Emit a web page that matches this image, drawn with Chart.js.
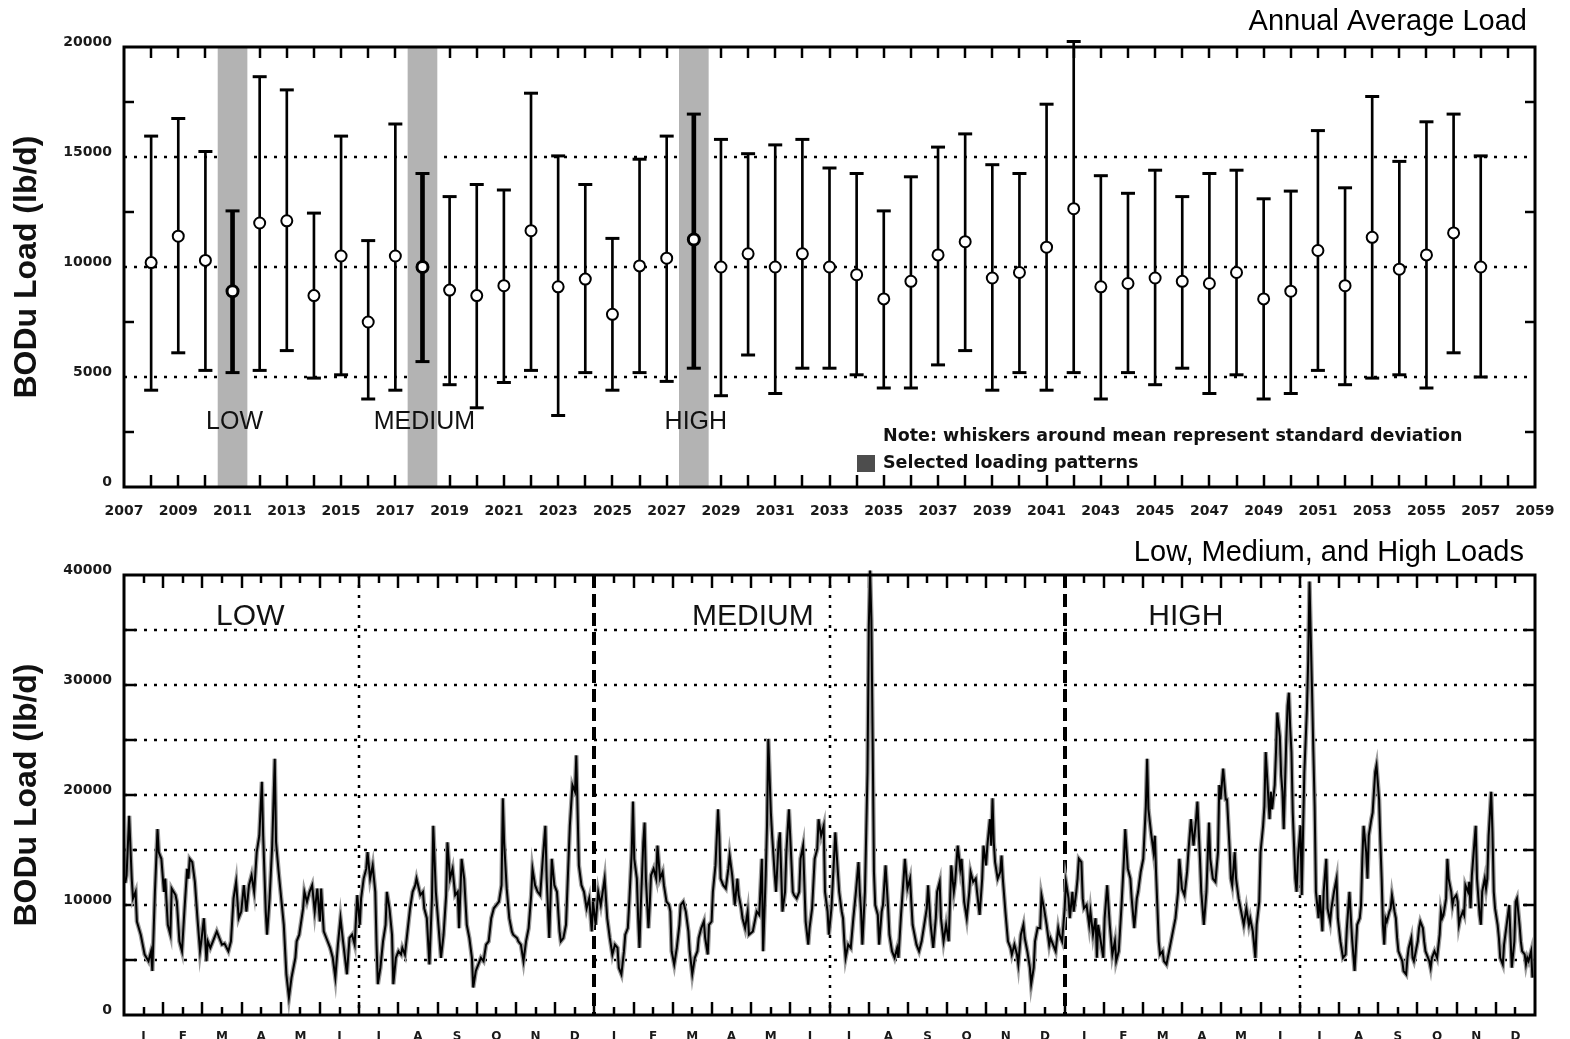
<!DOCTYPE html>
<html lang="en">
<head>
    <meta charset="UTF-8">
    <title>BODu Load</title>
    <script src="https://cdn.jsdelivr.net/npm/chart.js"></script>
    <style>
        body { margin: 0; background: #fff; }
        canvas { position: absolute; left: 0; }
        #annualChart { top: 0; }
        #dailyChart { top: 520px; }
    </style>
</head>
<body>
    <canvas id="annualChart" width="1570" height="520"></canvas>
    <canvas id="dailyChart" width="1570" height="519"></canvas>

    <script>
        // ---- Annual average load (mean +/- standard deviation) ----
        const years = [
            2008, 2009, 2010, 2011, 2012, 2013, 2014, 2015, 2016, 2017,
            2018, 2019, 2020, 2021, 2022, 2023, 2024, 2025, 2026, 2027,
            2028, 2029, 2030, 2031, 2032, 2033, 2034, 2035, 2036, 2037,
            2038, 2039, 2040, 2041, 2042, 2043, 2044, 2045, 2046, 2047,
            2048, 2049, 2050, 2051, 2052, 2053, 2054, 2055, 2056, 2057
        ];
        const meanLoad = [
            10200, 11400, 10300, 8900, 12000, 12100, 8700, 10500, 7500, 10500,
            10000, 8950, 8700, 9150, 11650, 9100, 9450, 7850, 10050, 10400,
            11250, 10000, 10600, 10000, 10600, 10000, 9650, 8550, 9350, 10550,
            11150, 9500, 9750, 10900, 12650, 9100, 9250, 9500, 9350, 9250,
            9750, 8550, 8900, 10750, 9150, 11350, 9900, 10550, 11550, 10000
        ];
        const upperLoad = [
            15950, 16750, 15250, 12550, 18650, 18050, 12450, 15950, 11200, 16500,
            14250, 13200, 13750, 13500, 17900, 15050, 13750, 11300, 14900, 15950,
            16950, 15800, 15150, 15550, 15800, 14500, 14250, 12550, 14100, 15450,
            16050, 14650, 14250, 17400, 20250, 14150, 13350, 14400, 13200, 14250,
            14400, 13100, 13450, 16200, 13600, 17750, 14800, 16600, 16950, 15050
        ];
        const lowerLoad = [
            4400, 6100, 5300, 5200, 5300, 6200, 4950, 5100, 4000, 4400,
            5700, 4650, 3600, 4750, 5300, 3250, 5200, 4400, 5200, 4800,
            5400, 4150, 6000, 4250, 5400, 5400, 5100, 4500, 4500, 5550,
            6200, 4400, 5200, 4400, 5200, 4000, 5200, 4650, 5400, 4250,
            5100, 4000, 4250, 5300, 4650, 4950, 5100, 4500, 6100, 5000
        ];
        const selectedYears = [2011, 2018, 2028];
        const patternNames = ['LOW', 'MEDIUM', 'HIGH'];
        const yearTicks = [
            2007, 2009, 2011, 2013, 2015, 2017, 2019, 2021, 2023, 2025, 2027, 2029, 2031, 2033,
            2035, 2037, 2039, 2041, 2043, 2045, 2047, 2049, 2051, 2053, 2055, 2057, 2059
        ];
        const annualTicks = [0, 5000, 10000, 15000, 20000];

        // ---- Daily loads for the three selected years (day counted from start of LOW year) ----
        const lowDays = [
            1, 2, 4, 6, 7, 9, 10, 13, 16, 19,
            21, 22, 24, 26, 27, 29, 31, 32, 34, 36,
            37, 40, 41, 43, 45, 47, 49, 50, 51, 53,
            55, 57, 59, 60, 62, 64, 65, 67, 69, 72,
            74, 76, 78, 81, 83, 85, 87, 89, 91, 93,
            95, 97, 99, 101, 103, 105, 107, 108, 110, 111,
            113, 115, 117, 118, 120, 122, 124, 126, 128, 130,
            133, 134, 136, 139, 140, 142, 144, 146, 148, 150,
            152, 153, 155, 157, 160, 162, 164, 166, 168, 170,
            173, 175, 177, 179, 181, 183, 184, 186, 188, 189,
            191, 193, 195, 196, 197, 199, 201, 203, 204, 206,
            208, 209, 211, 213, 215, 216, 218, 220, 222, 224,
            226, 227, 230, 232, 233, 235, 237, 239, 240, 242,
            244, 246, 248, 250, 251, 253, 255, 257, 259, 260,
            262, 264, 266, 268, 270, 271, 273, 276, 277, 279,
            281, 283, 285, 287, 289, 291, 293, 294, 295, 297,
            299, 301, 302, 305, 306, 308, 310, 312, 314, 316,
            317, 319, 321, 323, 325, 327, 328, 330, 332, 334,
            336, 338, 339, 341, 343, 345, 346, 348, 350, 351,
            353, 355, 357, 359, 361, 363, 364
        ];
        const lowLoads = [
            12000, 12700, 18100, 12400, 10600, 11200, 8500, 7300, 5500, 4900,
            5800, 4000, 11200, 16900, 14800, 14200, 11200, 12400, 8200, 7300,
            11500, 10900, 10300, 6700, 5800, 9700, 13300, 12400, 14200, 13900,
            12100, 8800, 5800, 6700, 8800, 4900, 6700, 6100, 6700, 7600,
            7000, 6400, 6500, 5800, 6700, 10600, 12100, 8800, 9400, 11800,
            9400, 11800, 12700, 11200, 14800, 16300, 21200, 16300, 9400, 7300,
            10600, 15400, 23300, 15700, 13000, 10600, 8200, 3700, 1600, 3400,
            5200, 6700, 7300, 9700, 11200, 10300, 11200, 11800, 9400, 11500,
            8500, 11500, 7600, 7000, 6100, 5200, 3400, 6400, 8800, 6700,
            3700, 7000, 7300, 6400, 10900, 8200, 10600, 12400, 13300, 14800,
            12400, 13600, 11200, 6400, 2800, 4300, 6700, 8200, 11200, 9700,
            7300, 2800, 5200, 5800, 5500, 6100, 5500, 7600, 9700, 11200,
            11800, 12400, 10900, 11200, 9700, 8800, 4600, 10600, 17200, 11200,
            8200, 5200, 7300, 10900, 15700, 12400, 13300, 10900, 11200, 7900,
            14200, 12400, 8200, 7000, 5200, 2500, 4000, 4900, 5200, 4900,
            6400, 6700, 8800, 9700, 10000, 10300, 11800, 19700, 15700, 11500,
            8800, 7600, 7300, 7000, 6700, 6400, 4900, 6700, 7900, 10900,
            13300, 11800, 11200, 10900, 14200, 17200, 12400, 7000, 14200, 11800,
            11200, 7600, 6700, 7000, 8200, 14200, 17200, 20900, 20300, 23600,
            13600, 11800, 11200, 9700, 10600, 7600, 10300
        ];
        const mediumDays = [
            366, 368, 370, 373, 375, 377, 379, 381, 383, 384,
            386, 388, 389, 391, 392, 394, 395, 396, 398, 399,
            400, 401, 403, 404, 405, 407, 408, 409, 411, 413,
            414, 416, 418, 419, 421, 423, 424, 425, 427, 429,
            431, 432, 434, 436, 438, 439, 441, 443, 445, 446,
            448, 450, 451, 453, 454, 456, 457, 459, 461, 462,
            463, 465, 467, 469, 470, 472, 474, 476, 477, 479,
            480, 482, 484, 485, 488, 489, 491, 493, 495, 496,
            498, 499, 500, 502, 503, 505, 506, 508, 509, 511,
            513, 514, 516, 517, 519, 520, 522, 524, 525, 527,
            529, 531, 532, 534, 536, 538, 539, 541, 543, 544,
            546, 547, 549, 551, 552, 553, 555, 557, 558, 559,
            560, 562, 564, 566, 568, 570, 571, 572, 573, 575,
            576, 577, 578, 579, 580, 581, 582, 583, 585, 586,
            588, 589, 591, 593, 594, 596, 598, 600, 601, 603,
            605, 606, 608, 610, 612, 613, 615, 617, 619, 621,
            623, 624, 626, 628, 630, 631, 633, 634, 636, 638,
            640, 642, 644, 645, 647, 649, 650, 652, 654, 656,
            657, 659, 661, 662, 664, 666, 667, 669, 670, 672,
            673, 674, 675, 676, 678, 680, 681, 682, 684, 686,
            688, 689, 691, 693, 694, 696, 698, 699, 701, 703,
            704, 706, 707, 709, 711, 712, 714, 716, 718, 719,
            721, 723, 725, 726, 728, 730
        ];
        const mediumLoads = [
            8200, 11200, 10000, 12400, 8800, 7000, 5500, 6400, 6100, 4300,
            3700, 5800, 7300, 7900, 10000, 14800, 19400, 14200, 12400, 8800,
            6100, 9700, 15700, 17500, 12400, 7900, 10000, 12700, 13300, 12400,
            15400, 12400, 13000, 11800, 10300, 10000, 9400, 5800, 4600, 6100,
            8200, 10000, 10300, 9400, 7600, 5800, 3700, 5200, 5800, 7000,
            7900, 8500, 7000, 5500, 8200, 8500, 11200, 13600, 18700, 16300,
            12400, 11800, 11500, 13300, 14500, 12700, 10000, 12400, 10900, 9700,
            8800, 7900, 9400, 7300, 7600, 8200, 9400, 9100, 14200, 5800,
            12700, 17200, 25100, 18400, 16300, 12700, 11200, 15700, 16600, 9400,
            11200, 14800, 18700, 16300, 11200, 10900, 10600, 11200, 14200, 15400,
            8500, 6400, 7900, 9700, 14200, 15100, 17800, 16300, 17200, 11200,
            9400, 7300, 9700, 14200, 16600, 14800, 11200, 9400, 8800, 6700,
            5200, 6400, 6100, 8800, 11200, 13900, 11200, 9400, 6400, 11200,
            16600, 22100, 35300, 40400, 35900, 24800, 13000, 10000, 9100, 6400,
            9400, 10000, 13600, 9700, 7300, 5800, 5200, 6100, 5200, 9100,
            12400, 14200, 11500, 12400, 8200, 7600, 6400, 5800, 6700, 8200,
            9700, 11800, 8200, 6100, 8800, 11200, 12100, 8800, 6700, 8200,
            6700, 13600, 11200, 12100, 15400, 13300, 14200, 10300, 8800, 11200,
            13000, 12100, 12400, 11200, 9100, 12400, 15400, 13600, 15400, 17800,
            15400, 19700, 15700, 13900, 12400, 13000, 14500, 12400, 9400, 6700,
            6100, 5500, 6400, 5500, 4600, 7300, 8200, 7000, 5800, 4300,
            2800, 4300, 6700, 7900, 7900, 10900, 9700, 8200, 6400, 7000,
            6400, 5800, 7900, 7300, 6700, 9700
        ];
        const highDays = [
            731, 733, 734, 736, 737, 739, 740, 741, 743, 744,
            745, 747, 749, 750, 752, 754, 755, 756, 758, 760,
            761, 763, 765, 767, 769, 770, 772, 774, 776, 777,
            779, 781, 782, 784, 786, 787, 789, 791, 793, 794,
            795, 797, 799, 800, 801, 803, 804, 806, 807, 809,
            811, 812, 814, 816, 818, 819, 821, 823, 825, 826,
            828, 830, 832, 833, 835, 836, 838, 840, 842, 843,
            845, 847, 849, 850, 851, 853, 855, 856, 858, 859,
            860, 862, 863, 865, 867, 869, 871, 873, 874, 876,
            878, 879, 881, 882, 884, 885, 886, 887, 889, 890,
            891, 893, 894, 895, 897, 898, 899, 900, 902, 903,
            904, 905, 906, 907, 909, 910, 911, 913, 914, 915,
            916, 918, 919, 920, 922, 923, 924, 925, 927, 928,
            930, 931, 933, 934, 936, 937, 939, 941, 942, 944,
            946, 948, 949, 951, 953, 955, 957, 959, 960, 961,
            962, 964, 965, 966, 968, 969, 970, 971, 972, 974,
            975, 976, 977, 978, 979, 980, 982, 983, 984, 986,
            987, 988, 989, 991, 992, 993, 995, 996, 997, 999,
            1000, 1001, 1003, 1004, 1005, 1006, 1008, 1009, 1010, 1012,
            1013, 1014, 1015, 1017, 1018, 1019, 1021, 1022, 1023, 1024,
            1026, 1027, 1028, 1030, 1031, 1032, 1034, 1035, 1036, 1037,
            1039, 1040, 1041, 1043, 1044, 1045, 1046, 1048, 1049, 1050,
            1052, 1053, 1054, 1056, 1057, 1058, 1059, 1061, 1062, 1063,
            1064, 1066, 1067, 1068, 1070, 1071, 1072, 1073, 1075, 1076,
            1077, 1079, 1080, 1081, 1083, 1084, 1085, 1087, 1088, 1089,
            1090, 1092, 1093
        ];
        const highLoads = [
            12100, 10600, 8800, 11200, 9400, 11200, 12400, 14200, 13900, 10600,
            9700, 10000, 8200, 9400, 7300, 8800, 5200, 8200, 6700, 5200,
            8800, 11800, 8200, 5500, 6700, 4900, 5800, 9700, 14200, 16900,
            13300, 12400, 10600, 7900, 10600, 11200, 13000, 14200, 19000, 23300,
            18700, 16600, 14800, 16300, 12700, 6700, 5500, 5800, 4900, 4600,
            5800, 6400, 7600, 8800, 11200, 14200, 11500, 10900, 13000, 14800,
            17800, 15400, 17800, 19400, 14200, 11200, 8200, 11200, 17500, 14200,
            12400, 12100, 14800, 20900, 19600, 22400, 19600, 19600, 15100, 12400,
            11800, 14800, 12400, 10600, 9400, 8200, 9700, 8200, 8800, 7600,
            5200, 8200, 10300, 14800, 17200, 19000, 23900, 21900, 17800, 20300,
            18700, 20900, 23900, 27500, 25300, 21800, 20300, 16900, 25100, 28100,
            29300, 26200, 23900, 18400, 12400, 11200, 14200, 17200, 10900, 16600,
            22100, 27800, 32300, 39400, 29300, 23900, 19000, 11200, 8800, 10900,
            7600, 11200, 14200, 9700, 8500, 9700, 11200, 12400, 8800, 6700,
            5200, 5500, 7900, 11200, 7000, 4000, 8200, 8800, 10000, 14200,
            17200, 14800, 12400, 16300, 17800, 18400, 20300, 22100, 22700, 19600,
            15700, 12400, 8200, 6400, 8800, 8500, 9400, 9700, 10900, 9400,
            8800, 7000, 5800, 5200, 4900, 4000, 3700, 5200, 6100, 7000,
            5200, 4900, 6100, 6700, 7900, 8500, 7900, 6700, 5800, 5200,
            4900, 4300, 5200, 5800, 5500, 5200, 7300, 9400, 8800, 9100,
            10600, 14200, 12400, 11200, 10000, 10600, 10900, 10300, 8200, 8800,
            9400, 9100, 11800, 11200, 12100, 9700, 12700, 15700, 17200, 12400,
            9100, 8200, 11200, 12400, 11500, 12400, 16300, 20300, 16600, 11200,
            9700, 8200, 7000, 5200, 4600, 6400, 7300, 8200, 10000, 7000,
            4300, 6700, 10300, 10600, 8200, 6700, 5800, 5500, 4600, 5200,
            4900, 5800, 3400
        ];
        const monthLetters = ['J', 'F', 'M', 'A', 'M', 'J', 'J', 'A', 'S', 'O', 'N', 'D'];
        const dailyTicks = [0, 10000, 20000, 30000, 40000];
        const periodLabelDays = [98, 488, 824];

        // ---- shared look ----
        const tickFont = { family: '"DejaVu Sans", sans-serif', size: 14, weight: 'bold' };
        const monthFont = { family: '"DejaVu Sans", sans-serif', size: 12, weight: 'bold' };
        const axisTitle = {
            display: true,
            text: 'BODu Load (lb/d)',
            color: '#111',
            font: { family: '"Liberation Sans", Arial, sans-serif', size: 32, weight: 'bold' },
            padding: { top: 8, bottom: 0 }
        };
        const DAYS = 1095;

        function line(ctx, x1, y1, x2, y2) {
            ctx.beginPath();
            ctx.moveTo(x1, y1);
            ctx.lineTo(x2, y2);
            ctx.stroke();
        }

        // ---- Annual chart ----
        const annualDecor = {
            id: 'annualDecor',
            beforeDatasetsDraw(chart) {
                const { ctx, chartArea: a, scales: { x, y } } = chart;
                ctx.save();
                ctx.strokeStyle = '#000';
                ctx.lineWidth = 2.5;
                ctx.setLineDash([3, 7]);
                [5000, 10000, 15000].forEach(v => {
                    const py = Math.round(y.getPixelForValue(v));
                    line(ctx, a.left, py, a.right, py);
                });
                ctx.setLineDash([]);
                ctx.lineWidth = 2.5;
                for (let yr = x.min + 1; yr < x.max; yr++) {
                    const px = Math.round(x.getPixelForValue(yr));
                    line(ctx, px, a.top, px, a.top + 11);
                    line(ctx, px, a.bottom, px, a.bottom - 12);
                }
                [2500, 7500, 12500, 17500].forEach(v => {
                    const py = Math.round(y.getPixelForValue(v));
                    line(ctx, a.left, py, a.left + 10, py);
                    line(ctx, a.right, py, a.right - 10, py);
                });
                ctx.restore();
            },
            afterDatasetsDraw(chart) {
                const { ctx, chartArea: a, scales: { x, y } } = chart;
                ctx.save();
                ctx.strokeStyle = '#000';
                ctx.lineWidth = 3;
                ctx.strokeRect(a.left, a.top, a.width, a.height);

                ctx.fillStyle = '#111';
                ctx.textAlign = 'center';
                ctx.textBaseline = 'middle';
                ctx.font = '25px "Liberation Sans", Arial, sans-serif';
                selectedYears.forEach((yr, i) => {
                    ctx.fillText(patternNames[i], x.getPixelForValue(yr) + 2, y.getPixelForValue(2950));
                });

                ctx.textAlign = 'left';
                ctx.font = 'bold 17.5px "DejaVu Sans", sans-serif';
                ctx.fillText('Note: whiskers around mean represent standard deviation', 883, 436);
                ctx.fillText('Selected loading patterns', 883, 463);
                ctx.fillStyle = '#4d4d4d';
                ctx.fillRect(857, 455, 18, 17);

                ctx.fillStyle = '#000';
                ctx.textAlign = 'right';
                ctx.font = '29px "Liberation Sans", Arial, sans-serif';
                ctx.fillText('Annual Average Load', a.right - 8, 22);
                ctx.restore();
            }
        };

        new Chart(document.getElementById('annualChart'), {
            type: 'bar',
            data: {
                datasets: [
                    {
                        label: 'Selected loading patterns',
                        data: selectedYears.map(yr => ({ x: yr, y: [annualTicks[0], annualTicks[annualTicks.length - 1]] })),
                        backgroundColor: '#b3b3b3',
                        barThickness: 29,
                        grouped: false,
                        order: 4
                    },
                    {
                        label: 'Standard deviation',
                        data: years.map((yr, i) => ({ x: yr, y: [lowerLoad[i], upperLoad[i]] })),
                        backgroundColor: '#000',
                        barThickness: 2,
                        grouped: false,
                        clip: false,
                        order: 3
                    },
                    {
                        label: 'Selected deviation',
                        data: years.map((yr, i) => ({ x: yr, y: [lowerLoad[i], upperLoad[i]] }))
                            .filter(p => selectedYears.includes(p.x)),
                        backgroundColor: '#000',
                        barThickness: 4,
                        grouped: false,
                        clip: false,
                        order: 3
                    },
                    {
                        type: 'scatter',
                        label: 'Caps',
                        data: years.flatMap((yr, i) => [{ x: yr, y: upperLoad[i] }, { x: yr, y: lowerLoad[i] }]),
                        pointStyle: 'line',
                        pointRadius: 7,
                        borderColor: '#000',
                        borderWidth: 3,
                        clip: false,
                        order: 2
                    },
                    {
                        type: 'scatter',
                        label: 'Mean',
                        data: years.map((yr, i) => ({ x: yr, y: meanLoad[i] })),
                        pointStyle: 'circle',
                        pointRadius: 5.5,
                        backgroundColor: '#fff',
                        borderColor: '#000',
                        borderWidth: ctx => selectedYears.includes(ctx.raw && ctx.raw.x) ? 3 : 2,
                        order: 1
                    }
                ]
            },
            options: {
                responsive: false,
                animation: false,
                events: [],
                layout: { padding: { top: 47, right: 35, left: 0, bottom: 0 } },
                plugins: { legend: { display: false }, tooltip: { enabled: false } },
                scales: {
                    x: {
                        type: 'linear',
                        min: 2007,
                        max: 2059,
                        offset: false,
                        afterBuildTicks: s => { s.ticks = yearTicks.map(v => ({ value: v })); },
                        afterFit: s => { s.height = 33; },
                        grid: { display: false, offset: false },
                        border: { display: false },
                        ticks: {
                            autoSkip: false, maxRotation: 0, padding: 8,
                            font: tickFont, color: '#1a1a1a',
                            callback: v => String(v)
                        }
                    },
                    y: {
                        type: 'linear',
                        min: 0,
                        max: 20000,
                        afterBuildTicks: s => { s.ticks = annualTicks.map(v => ({ value: v })); },
                        afterFit: s => { s.width = 124; },
                        grid: { display: false },
                        border: { display: false },
                        ticks: {
                            padding: 4, labelOffset: -5,
                            font: tickFont, color: '#1a1a1a',
                            callback: v => String(v)
                        },
                        title: axisTitle
                    }
                }
            },
            plugins: [annualDecor]
        });

        // ---- Daily chart ----
        const dailyDecor = {
            id: 'dailyDecor',
            beforeDatasetsDraw(chart) {
                const { ctx, chartArea: a, scales: { x, y } } = chart;
                ctx.save();
                ctx.strokeStyle = '#000';
                ctx.lineWidth = 2.5;
                ctx.setLineDash([3, 7]);
                for (let v = 5000; v < 40000; v += 5000) {
                    const py = Math.round(y.getPixelForValue(v));
                    line(ctx, a.left, py, a.right, py);
                }
                [0.5, 1.5, 2.5].forEach(p => {
                    const px = Math.round(x.getPixelForValue(p * DAYS / 3));
                    line(ctx, px, a.top, px, a.bottom);
                });
                ctx.lineWidth = 4;
                ctx.setLineDash([13, 6]);
                [1, 2].forEach(p => {
                    const px = Math.round(x.getPixelForValue(p * DAYS / 3));
                    line(ctx, px, a.top, px, a.bottom);
                });
                ctx.setLineDash([]);
                ctx.lineWidth = 2.5;
                for (let k = 1; k < 72; k++) {
                    const px = Math.round(x.getPixelForValue(k * DAYS / 72));
                    const len = k % 2 === 0 ? 13 : 8;
                    line(ctx, px, a.top, px, a.top + len);
                    line(ctx, px, a.bottom, px, a.bottom - len);
                }
                for (let v = 5000; v < 40000; v += 5000) {
                    const py = Math.round(y.getPixelForValue(v));
                    line(ctx, a.left, py, a.left + 12, py);
                    line(ctx, a.right, py, a.right - 12, py);
                }
                ctx.restore();
            },
            afterDatasetsDraw(chart) {
                const { ctx, chartArea: a, scales: { x, y } } = chart;
                ctx.save();
                ctx.strokeStyle = '#000';
                ctx.lineWidth = 3;
                ctx.strokeRect(a.left, a.top, a.width, a.height);

                ctx.fillStyle = '#111';
                ctx.textAlign = 'center';
                ctx.textBaseline = 'middle';
                ctx.font = '30px "Liberation Sans", Arial, sans-serif';
                periodLabelDays.forEach((d, i) => {
                    ctx.fillText(patternNames[i], x.getPixelForValue(d), y.getPixelForValue(36200));
                });

                ctx.fillStyle = '#000';
                ctx.textAlign = 'right';
                ctx.font = '29px "Liberation Sans", Arial, sans-serif';
                ctx.fillText('Low, Medium, and High Loads', a.right - 11, a.top - 22);
                ctx.restore();
            }
        };

        const allLoads = lowLoads.concat(mediumLoads, highLoads);
        const loadPoints = lowDays.concat(mediumDays, highDays).map((d, i) => ({ x: d, y: allLoads[i] }));

        new Chart(document.getElementById('dailyChart'), {
            type: 'line',
            data: {
                datasets: [
                    {
                        label: 'BODu load',
                        data: loadPoints,
                        borderColor: '#000',
                        borderWidth: 2,
                        pointRadius: 0,
                        tension: 0,
                        clip: false,
                        order: 1
                    },
                    {
                        label: 'BODu load halo',
                        data: loadPoints,
                        borderColor: '#9c9c9c',
                        borderWidth: 4.5,
                        pointRadius: 0,
                        tension: 0,
                        clip: false,
                        order: 2
                    }
                ]
            },
            options: {
                responsive: false,
                animation: false,
                events: [],
                layout: { padding: { top: 55, right: 35, left: 0, bottom: 0 } },
                plugins: { legend: { display: false }, tooltip: { enabled: false } },
                scales: {
                    x: {
                        type: 'linear',
                        min: 0,
                        max: DAYS,
                        afterBuildTicks: s => {
                            s.ticks = Array.from({ length: 36 }, (_, i) => ({ value: (i + 0.5) * DAYS / 36 }));
                        },
                        afterFit: s => { s.height = 24; },
                        grid: { display: false },
                        border: { display: false },
                        ticks: {
                            autoSkip: false, maxRotation: 0, padding: 7,
                            font: monthFont, color: '#1a1a1a',
                            callback: (v, i) => monthLetters[i % 12]
                        }
                    },
                    y: {
                        type: 'linear',
                        min: 0,
                        max: 40000,
                        afterBuildTicks: s => { s.ticks = dailyTicks.map(v => ({ value: v })); },
                        afterFit: s => { s.width = 124; },
                        grid: { display: false },
                        border: { display: false },
                        ticks: {
                            padding: 4, labelOffset: -5,
                            font: tickFont, color: '#1a1a1a',
                            callback: v => String(v)
                        },
                        title: axisTitle
                    }
                }
            },
            plugins: [dailyDecor]
        });
    </script>
</body>
</html>
